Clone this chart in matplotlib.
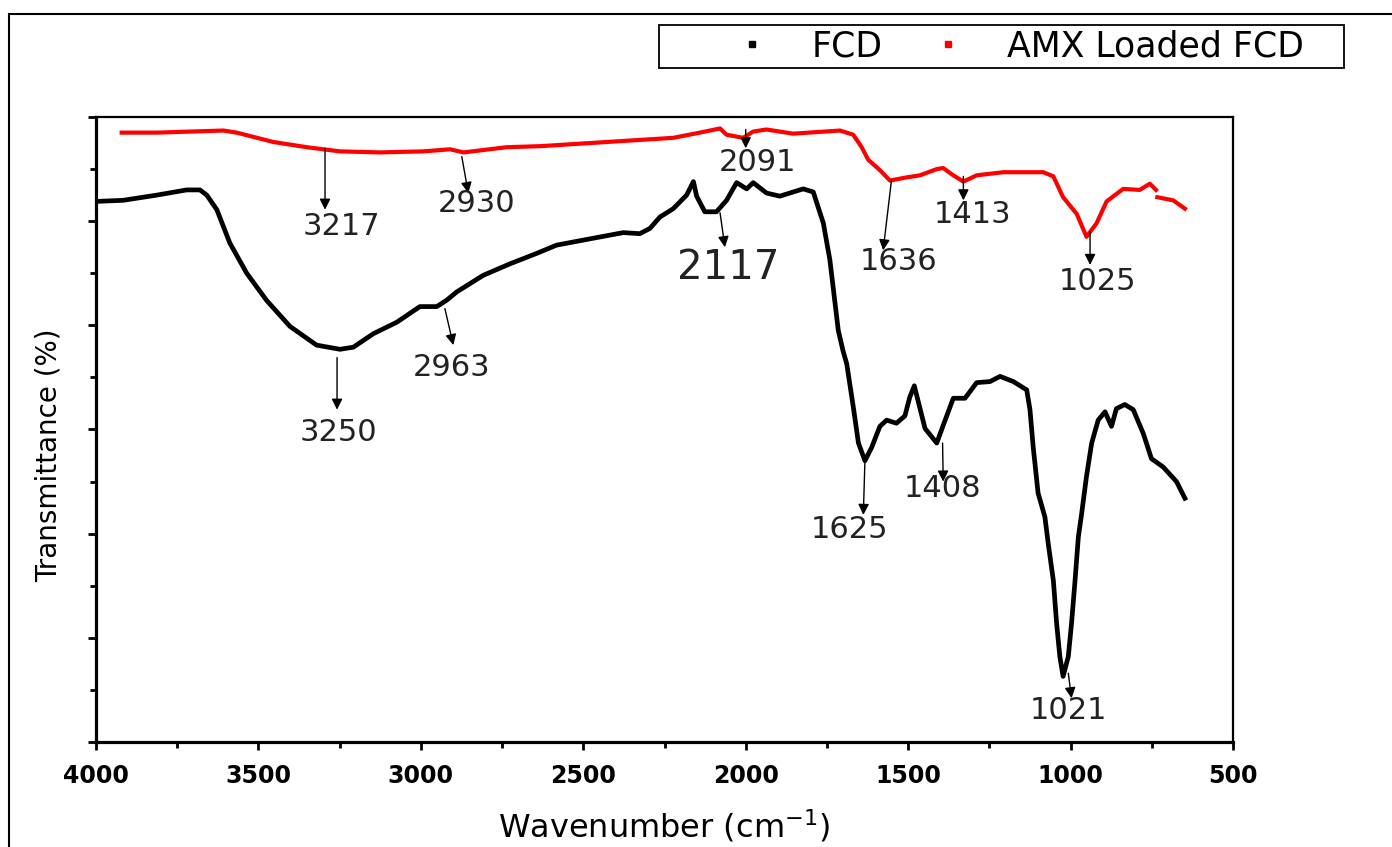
import matplotlib
matplotlib.use('Agg')
from matplotlib import pyplot as plt
from matplotlib.lines import Line2D
from matplotlib.patches import Rectangle
from matplotlib.ticker import MultipleLocator
import numpy as np

# FCD (black) spectrum
fcd_wn = [3998, 3917, 3813, 3721, 3680, 3659, 3628, 3588, 3536, 3475, 3403, 3321,
          3249, 3208, 3146, 3074, 3003, 2951, 2921, 2890, 2808, 2726, 2644, 2582,
          2480, 2377, 2326, 2295, 2264, 2223, 2182, 2161, 2151, 2126, 2090, 2059,
          2028, 1997, 1977, 1936, 1895, 1823, 1792, 1761, 1741, 1715, 1700, 1689,
          1669, 1653, 1633, 1612, 1587, 1566, 1536, 1510, 1495, 1481, 1469, 1448,
          1412, 1392, 1361, 1325, 1289, 1248, 1217, 1176, 1135, 1125, 1115, 1100,
          1079, 1069, 1053, 1043, 1033, 1023, 1007, 997, 987, 976, 966, 951,
          935, 915, 894, 874, 859, 833, 807, 776, 751, 715, 674, 648]
fcd_t = [51.9, 52.0, 52.5, 53.0, 53.0, 52.5, 51.1, 47.9, 45.0, 42.4, 39.9, 38.1,
         37.7, 37.9, 39.2, 40.3, 41.8, 41.8, 42.4, 43.2, 44.8, 45.9, 46.9, 47.7,
         48.3, 48.9, 48.8, 49.3, 50.4, 51.2, 52.5, 53.8, 52.4, 50.9, 50.9, 52.0,
         53.7, 53.1, 53.7, 52.7, 52.4, 53.1, 52.8, 49.8, 46.3, 39.5, 37.5, 36.3,
         32.2, 28.7, 27.0, 28.3, 30.3, 30.9, 30.6, 31.3, 33.1, 34.2, 32.7, 30.1,
         28.7, 30.4, 33.0, 33.0, 34.5, 34.6, 35.1, 34.6, 33.8, 31.9, 28.3, 23.9,
         21.6, 19.1, 15.5, 11.4, 8.2, 6.3, 8.2, 11.4, 15.2, 19.7, 21.9, 25.5,
         28.7, 30.9, 31.7, 30.3, 32.0, 32.4, 31.9, 29.6, 27.2, 26.4, 25.0, 23.4]

# AMX loaded FCD (red) spectrum
amx_wn = [3921, 3813, 3711, 3608, 3567, 3454, 3351, 3249, 3126, 2993, 2910, 2869,
          2736, 2633, 2428, 2223, 2141, 2079, 2059, 2008, 1977, 1936, 1854, 1710,
          1669, 1643, 1623, 1587, 1556, 1505, 1464, 1412, 1392, 1361, 1330, 1289,
          1207, 1084, 1053, 1023, 981, 951, 920, 889, 838, 787, 756, 737,
          736, 733, 684, 648]
amx_t = [58.5, 58.5, 58.6, 58.7, 58.5, 57.6, 57.1, 56.7, 56.6, 56.7, 56.9, 56.6,
         57.1, 57.2, 57.6, 58.0, 58.5, 58.9, 58.3, 58.0, 58.6, 58.8, 58.4, 58.7,
         58.3, 57.1, 55.9, 54.9, 53.9, 54.2, 54.4, 55.0, 55.1, 54.4, 53.8, 54.4,
         54.7, 54.7, 54.3, 52.3, 50.7, 48.5, 49.8, 51.9, 53.1, 53.0, 53.6, 53.0,
         np.nan, 52.3, 52.0, 51.2]

# peak labels: text, arrow start, arrow tip, label centre, font size
peak_text = ['3217', '2930', '3250', '2963', '2117', '2091',
             '1636', '1413', '1025', '1625', '1408', '1021']
arrow_from = [(3295, 57.0), (2874, 56.2), (3258, 36.9), (2926, 41.6), (2079, 50.8), (2000, 58.8),
              (1551, 54.0), (1330, 54.3), (940, 49.0), (1633, 27.0), (1394, 28.7), (1007, 6.6)]
arrow_to = [(3295, 51.1), (2854, 52.7), (3258, 31.9), (2900, 38.1), (2064, 47.5), (2000, 57.0),
            (1577, 47.2), (1330, 52.0), (940, 45.8), (1638, 21.8), (1392, 25.0), (997, 4.2)]
label_at = [(3243, 49.5), (2827, 51.7), (3255, 29.7), (2904, 36.0), (2054, 45.5), (1964, 55.6),
            (1531, 46.1), (1302, 50.6), (917, 44.2), (1682, 20.4), (1393, 24.3), (1008, 3.0)]
label_size = [22, 22, 22, 22, 29, 22, 22, 22, 22, 22, 22, 22]

fig = plt.figure(figsize=(13.92, 8.47), dpi=100)
ax = fig.add_axes([96/1392, 1-742/847, (1233-96)/1392, (742-117)/847])

ax.plot(fcd_wn, fcd_t, '-', color='k', linewidth=3.4)
ax.plot(amx_wn, amx_t, '-', color='red', linewidth=3.0)

for txt, a, b, c, s in zip(peak_text, arrow_from, arrow_to, label_at, label_size):
    ax.annotate('', xy=b, xytext=a,
                arrowprops=dict(arrowstyle='-|>', color='k', lw=1.0,
                                mutation_scale=16, shrinkA=0, shrinkB=0))
    ax.text(c[0], c[1], txt, fontsize=s, ha='center', va='center', color='#222222')

ax.set_xlim(4000, 500)
ax.set_ylim(0, 60)
ax.xaxis.set_major_locator(MultipleLocator(500))
ax.xaxis.set_minor_locator(MultipleLocator(250))
ax.yaxis.set_major_locator(MultipleLocator(10))
ax.yaxis.set_minor_locator(MultipleLocator(5))
ax.tick_params(which='major', direction='out', length=6, width=2)
ax.tick_params(which='minor', direction='out', length=4, width=2)
ax.tick_params(axis='x', which='major', pad=10, labelsize=17)
ax.tick_params(axis='y', labelleft=False)
for lab in ax.get_xticklabels():
    lab.set_fontweight('bold')
for side in ['left', 'bottom']:
    ax.spines[side].set_linewidth(2.3)
for side in ['top', 'right']:
    ax.spines[side].set_linewidth(1.6)

ax.set_xlabel('Wavenumber (cm$^{-1}$)', fontsize=23, labelpad=14)
fig.text(49/1392, 1-455/847, 'Transmittance (%)', rotation=90, fontsize=20,
         ha='center', va='center')

# outer frame and legend box
fig.add_artist(Rectangle((9/1392, -0.1), 1.2, 1.1 - 14/847, transform=fig.transFigure,
                         fill=False, lw=1.5, color='k'))
fig.add_artist(Rectangle((659/1392, 1-68/847), (1344-659)/1392, 43/847,
                         transform=fig.transFigure, fill=False, lw=1.3, color='k'))

handles = [Line2D([], [], ls='none', marker='s', ms=4, color='k'),
           Line2D([], [], ls='none', marker='s', ms=4, color='red')]
fig.legend(handles, ['FCD', 'AMX Loaded FCD'], ncol=2, frameon=False,
           loc='center left', bbox_to_anchor=(735/1392, 1-46.5/847),
           fontsize=25, handlelength=1.0, handletextpad=1.2, columnspacing=1.4,
           borderpad=0, borderaxespad=0)

fig.savefig('out.png', dpi=100, facecolor='white')
